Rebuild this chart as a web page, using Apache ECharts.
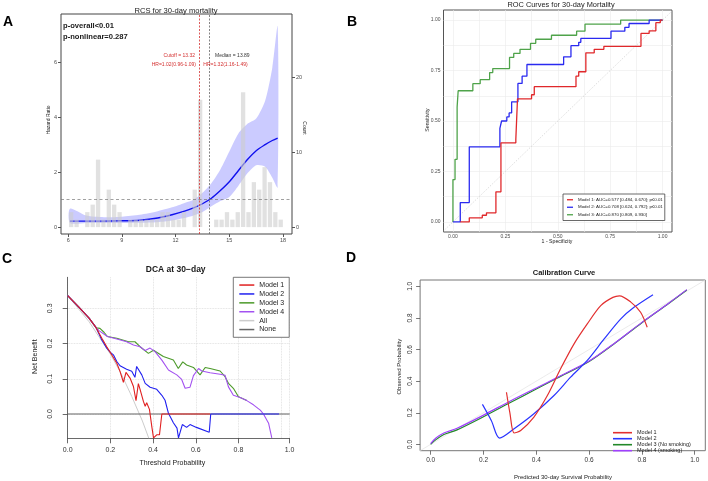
<!DOCTYPE html>
<html>
<head>
<meta charset="utf-8">
<script src="https://cdn.jsdelivr.net/npm/echarts@6.0.0/dist/echarts.min.js"></script>
<style>
html, body { margin: 0; padding: 0; background: #fff; }
#main { width: 708px; height: 481px; }
</style>
</head>
<body>
<div id="main"></div>
<script>
// ---- A: RCS for 30-day mortality ----
var rcsX     = [6.1, 7.0, 8.0, 9.0, 10.0, 11.0, 11.8, 12.5, 13.0, 13.5, 14.0, 14.5, 15.0, 15.5, 16.0, 16.5, 17.0, 17.4, 17.7];
var rcsHR    = [0.22, 0.22, 0.22, 0.23, 0.25, 0.33, 0.45, 0.58, 0.70, 0.85, 1.05, 1.33, 1.65, 2.05, 2.45, 2.78, 3.00, 3.15, 3.24];
var rcsUpper = [0.67, 0.42, 0.36, 0.38, 0.45, 0.58, 0.72, 0.88, 1.00, 1.25, 1.60, 2.10, 2.75, 3.40, 3.75, 3.95, 4.60, 5.80, 7.30];
var rcsLower = [0.15, 0.15, 0.15, 0.15, 0.16, 0.18, 0.24, 0.33, 0.42, 0.55, 0.76, 0.95, 1.10, 1.50, 1.95, 2.25, 2.20, 1.80, 1.45];
var histX = [6.17, 6.47, 6.77, 7.07, 7.37, 7.67, 7.97, 8.27, 8.57, 8.87,
             9.17, 9.47, 9.77, 10.07, 10.37, 10.67, 10.97, 11.27, 11.57, 11.87,
             12.17, 12.47, 12.77, 13.07, 13.37, 13.67, 13.97, 14.27, 14.57, 14.87,
             15.17, 15.47, 15.77, 16.07, 16.37, 16.67, 16.97, 17.27, 17.57, 17.87];
var histCount = [2, 1, 0, 2, 3, 9, 1, 5, 3, 2,
                 0, 1, 1, 1, 1, 1, 1, 2, 2, 1,
                 1, 2, 0, 5, 17, 0, 0, 1, 1, 2,
                 1, 2, 18, 2, 6, 5, 8, 6, 2, 1];
var hrRef = 1;
var cutoff = 13.32;
var median = 13.89;
var rcsXTicks = [6, 9, 12, 15, 18];
var hrTicks = [0, 2, 4, 6];
var countTicks = [0, 10, 20];

// ---- B: ROC curves ----
var roc1 = [[0.035,0],[0.078,0],[0.078,0.02],[0.14,0.02],[0.14,0.033],[0.16,0.033],[0.16,0.045],[0.205,0.045],[0.205,0.149],[0.229,0.149],[0.229,0.392],[0.3,0.392],[0.3,0.408],[0.308,0.408],[0.308,0.61],[0.375,0.61],[0.375,0.63],[0.388,0.63],[0.388,0.67],[0.587,0.67],[0.587,0.722],[0.6,0.722],[0.6,0.744],[0.634,0.744],[0.634,0.838],[0.674,0.838],[0.674,0.855],[0.72,0.855],[0.72,0.87],[0.897,0.87],[0.897,0.934],[0.936,0.934],[0.936,0.947],[0.968,0.947],[0.968,0.987],[0.989,0.987],[0.989,1],[1,1]];
var roc2 = [[0,0],[0.035,0],[0.035,0.096],[0.078,0.096],[0.078,0.372],[0.224,0.372],[0.224,0.463],[0.232,0.463],[0.232,0.5],[0.257,0.5],[0.257,0.52],[0.268,0.52],[0.268,0.54],[0.28,0.54],[0.28,0.595],[0.31,0.595],[0.31,0.686],[0.33,0.686],[0.33,0.722],[0.353,0.722],[0.353,0.78],[0.528,0.78],[0.528,0.818],[0.563,0.818],[0.563,0.873],[0.6,0.873],[0.6,0.89],[0.61,0.89],[0.61,0.909],[0.754,0.909],[0.754,0.945],[0.82,0.945],[0.82,0.964],[0.84,0.964],[0.84,0.983],[0.936,0.983],[0.936,1],[1,1]];
var roc3 = [[0,0],[0,0.21],[0.01,0.21],[0.01,0.31],[0.02,0.31],[0.02,0.57],[0.025,0.57],[0.025,0.65],[0.095,0.65],[0.095,0.685],[0.13,0.685],[0.13,0.705],[0.175,0.705],[0.175,0.74],[0.19,0.74],[0.19,0.76],[0.27,0.76],[0.27,0.815],[0.29,0.815],[0.29,0.835],[0.32,0.835],[0.32,0.855],[0.37,0.855],[0.37,0.885],[0.395,0.885],[0.395,0.905],[0.47,0.905],[0.47,0.925],[0.59,0.925],[0.59,0.945],[0.63,0.945],[0.63,0.98],[0.8,0.98],[0.8,1],[1,1]];
var rocDiag = [[-0.05,-0.05],[1.05,1.05]];
var rocNames = ['Model 1: AUC=0.577 [0.484, 0.670]; p\u22640.01',
                'Model 2: AUC=0.708 [0.624, 0.792]; p\u22640.01',
                'Model 3: AUC=0.870 [0.809, 0.930]'];
var rocTicks = [0, 0.25, 0.5, 0.75, 1];
var rocGrid = [0, 0.125, 0.25, 0.375, 0.5, 0.625, 0.75, 0.875, 1];

// ---- C: DCA at 30-day ----
var dca1 = [[0,0.336],[0.05,0.305],[0.1,0.272],[0.133,0.245],[0.16,0.215],[0.183,0.191],[0.206,0.168],[0.23,0.144],[0.245,0.121],[0.261,0.09],[0.273,0.118],[0.292,0.102],[0.308,0.078],[0.32,0.038],[0.331,0.086],[0.339,0.07],[0.355,0.035],[0.363,0.022],[0.37,0.032],[0.383,0.013],[0.394,-0.036],[0.402,-0.068],[0.417,-0.059],[0.43,-0.059],[0.441,0],[0.667,0]];
var dca2 = [[0,0.336],[0.05,0.305],[0.1,0.272],[0.133,0.245],[0.16,0.21],[0.183,0.187],[0.2,0.175],[0.214,0.168],[0.23,0.149],[0.245,0.137],[0.276,0.127],[0.3,0.121],[0.315,0.104],[0.323,0.135],[0.347,0.111],[0.363,0.087],[0.386,0.076],[0.417,0.07],[0.441,0.053],[0.456,0.039],[0.472,0.002],[0.495,-0.025],[0.512,-0.04],[0.519,-0.068],[0.528,-0.068],[0.537,-0.03],[0.557,-0.038],[0.573,-0.03],[0.603,-0.038],[0.663,-0.052],[0.67,0],[0.99,0]];
var dca3 = [[0,0.336],[0.05,0.305],[0.1,0.272],[0.133,0.245],[0.151,0.243],[0.17,0.232],[0.186,0.22],[0.23,0.215],[0.285,0.205],[0.315,0.205],[0.339,0.191],[0.378,0.172],[0.402,0.181],[0.448,0.163],[0.495,0.153],[0.518,0.129],[0.539,0.148],[0.557,0.139],[0.589,0.132],[0.62,0.111],[0.644,0.132],[0.667,0.129],[0.714,0.122],[0.737,0.106],[0.753,0.087],[0.776,0.073],[0.8,0.049],[0.839,0.038]];
var dca4 = [[0,0.336],[0.05,0.305],[0.1,0.272],[0.133,0.245],[0.148,0.236],[0.186,0.22],[0.23,0.213],[0.276,0.205],[0.308,0.196],[0.339,0.191],[0.363,0.18],[0.386,0.187],[0.409,0.177],[0.441,0.153],[0.472,0.125],[0.511,0.111],[0.534,0.098],[0.55,0.073],[0.573,0.076],[0.589,0.109],[0.613,0.129],[0.628,0.122],[0.667,0.117],[0.714,0.113],[0.737,0.11],[0.753,0.077],[0.776,0.053],[0.808,0.047],[0.839,0.038],[0.87,0.026],[0.902,0.011],[0.917,0],[0.941,-0.026],[0.956,-0.068]];
var dcaAll = [[0,0.336],[0.1,0.262],[0.2,0.17],[0.25,0.115],[0.3,0.05],[0.35,-0.02],[0.38,-0.069]];
var dcaNone = [[0,0],[1.04,0]];
var dcaYTicks = [0, 0.1, 0.2, 0.3];

// ---- D: Calibration curve ----
var cal1 = [[0.287,0.33],[0.3,0.2],[0.316,0.072],[0.341,0.088],[0.391,0.173],[0.442,0.309],[0.492,0.478],[0.543,0.636],[0.593,0.762],[0.644,0.878],[0.69,0.93],[0.715,0.94],[0.758,0.9],[0.795,0.836],[0.82,0.741]];
var cal2 = [[0.196,0.253],[0.23,0.15],[0.261,0.04],[0.316,0.099],[0.391,0.194],[0.467,0.309],[0.53,0.425],[0.593,0.531],[0.657,0.667],[0.72,0.794],[0.77,0.867],[0.842,0.947]];
var cal3 = [[0,0],[0.02,0.03],[0.05,0.062],[0.1,0.092],[0.2,0.175],[0.3,0.263],[0.4,0.35],[0.48,0.42],[0.6,0.525],[0.7,0.643],[0.8,0.77],[0.9,0.89],[0.97,0.977]];
var cal4 = [[0,0.005],[0.02,0.04],[0.05,0.072],[0.1,0.102],[0.2,0.185],[0.3,0.273],[0.4,0.357],[0.48,0.424],[0.6,0.527],[0.7,0.645],[0.8,0.772],[0.9,0.892],[0.97,0.979]];
var calDiag = [[-0.04,-0.04],[1.04,1.04]];
var calNames = ['Model 1', 'Model 2', 'Model 3 (No smoking)', 'Model 4 (smoking)'];
var calTicks = [0, 0.2, 0.4, 0.6, 0.8, 1];

var FF = '"Liberation Sans", Arial, sans-serif';

function pairs(xs, ys) {
    var out = [];
    for (var i = 0; i < xs.length; i++) out.push([xs[i], ys[i]]);
    return out;
}

function txt(x, y, s, size, opt) {
    opt = opt || {};
    return {
        type: 'text', x: x, y: y, rotation: opt.rot || 0, silent: true, z: 100,
        style: {
            text: s, fill: opt.color || '#1a1a1a', align: opt.align || 'center', verticalAlign: 'middle',
            font: (opt.bold ? 'bold ' : '') + size + 'px ' + FF
        }
    };
}
function lab(size, color, extra) {
    var o = { fontSize: size, color: color, fontFamily: FF };
    for (var k in extra) o[k] = extra[k];
    return o;
}
function fmt(d) { return function (v) { return Number(v).toFixed(d); }; }
function line(name, xi, yi, data, color, width, extra) {
    var s = {
        name: name, type: 'line', xAxisIndex: xi, yAxisIndex: yi, data: data,
        symbol: 'none', showSymbol: false, color: color,
        lineStyle: { color: color, width: width }, z: 3
    };
    for (var k in extra) s[k] = extra[k];
    return s;
}

// confidence band of the spline, drawn as one polygon through the axes
function renderBand(params, api) {
    if (params.dataIndex !== 0) return null;
    var pts = [];
    for (var i = 0; i < rcsX.length; i++) pts.push(api.coord([rcsX[i], rcsUpper[i]]));
    for (var j = rcsX.length - 1; j >= 0; j--) pts.push(api.coord([rcsX[j], rcsLower[j]]));
    return {
        type: 'polygon',
        shape: { points: pts, smooth: 0.25 },
        style: { fill: 'rgba(70,70,255,0.28)' }
    };
}

var axisOff = { show: false, onZero: false };

var chart = echarts.init(document.getElementById('main'));

var option = {
    animation: false,
    backgroundColor: '#fff',
    grid: [
        { left: 61, top: 14, width: 231, height: 220, show: true, borderColor: '#444', borderWidth: 1, backgroundColor: 'transparent' },
        { left: 443.5, top: 10, width: 228.5, height: 222, show: true, borderColor: '#555', borderWidth: 1, backgroundColor: 'transparent' },
        { left: 67.7, top: 277.3, width: 221.8, height: 161, show: false },
        { left: 420.1, top: 280, width: 285.2, height: 170.7, show: true, borderColor: '#777', borderWidth: 1, backgroundColor: 'transparent' }
    ],
    xAxis: [
        { type: 'value', gridIndex: 0, min: 5.6, max: 18.5,
          axisLine: axisOff, splitLine: { show: false },
          axisTick: { customValues: rcsXTicks, length: 3, lineStyle: { color: '#555' } },
          axisLabel: { customValues: rcsXTicks, margin: 3, fontSize: 5.5, color: '#4d4d4d', fontFamily: FF } },
        { type: 'value', gridIndex: 1, min: -0.045, max: 1.045,
          axisLine: axisOff,
          axisTick: { show: false, customValues: rocGrid },
          splitLine: { show: true, lineStyle: { color: '#ebebeb', width: 0.6 } },
          axisLabel: { customValues: rocTicks, margin: 2, fontSize: 5, color: '#4d4d4d', fontFamily: FF, formatter: fmt(2) } },
        { type: 'value', gridIndex: 2, min: 0, max: 1.039, interval: 0.2,
          axisLine: { show: true, onZero: false, lineStyle: { color: '#444', width: 0.8 } },
          axisTick: { length: 5, lineStyle: { color: '#444', width: 0.8 } },
          splitLine: { show: true, lineStyle: { color: '#d9d9d9', type: 'dotted', width: 0.8 } },
          axisLabel: { margin: 8, fontSize: 7, color: '#333', fontFamily: FF, formatter: fmt(1), showMaxLabel: true } },
        { type: 'value', gridIndex: 3, min: -0.04, max: 1.04,
          axisLine: axisOff, splitLine: { show: false },
          axisTick: { customValues: calTicks, length: 4, lineStyle: { color: '#555', width: 0.8 } },
          axisLabel: { customValues: calTicks, margin: 6, fontSize: 6.5, color: '#333', fontFamily: FF, formatter: fmt(1) } }
    ],
    yAxis: [
        { type: 'value', gridIndex: 0, min: -0.25, max: 7.75,
          axisLine: axisOff, splitLine: { show: false },
          axisTick: { customValues: hrTicks, length: 3, lineStyle: { color: '#555' } },
          axisLabel: { customValues: hrTicks, margin: 4, fontSize: 5.5, color: '#4d4d4d', fontFamily: FF } },
        { type: 'value', gridIndex: 0, position: 'right', min: -0.917, max: 28.42,
          axisLine: axisOff, splitLine: { show: false },
          axisTick: { customValues: countTicks, length: 3, lineStyle: { color: '#555' } },
          axisLabel: { customValues: countTicks, margin: 4, fontSize: 5.5, color: '#4d4d4d', fontFamily: FF } },
        { type: 'value', gridIndex: 1, min: -0.05, max: 1.05,
          axisLine: axisOff,
          axisTick: { show: false, customValues: rocGrid },
          splitLine: { show: true, lineStyle: { color: '#ebebeb', width: 0.6 } },
          axisLabel: { customValues: rocTicks, margin: 3, fontSize: 5, color: '#4d4d4d', fontFamily: FF, formatter: fmt(2) } },
        { type: 'value', gridIndex: 2, min: -0.069, max: 0.388,
          axisLine: { show: true, onZero: false, lineStyle: { color: '#444', width: 0.8 } },
          axisTick: { customValues: dcaYTicks, length: 5, lineStyle: { color: '#444', width: 0.8 } },
          splitLine: { show: true, lineStyle: { color: '#d9d9d9', type: 'dotted', width: 0.8 } },
          axisLabel: { customValues: dcaYTicks, margin: 14, rotate: 90, fontSize: 7, color: '#333', fontFamily: FF, formatter: fmt(1) } },
        { type: 'value', gridIndex: 3, min: -0.04, max: 1.04,
          axisLine: axisOff, splitLine: { show: false },
          axisTick: { customValues: calTicks, length: 4, lineStyle: { color: '#555', width: 0.8 } },
          axisLabel: { customValues: calTicks, margin: 6, rotate: 90, fontSize: 6.5, color: '#333', fontFamily: FF, formatter: fmt(1) } }
    ],
    legend: [
        { data: rocNames, orient: 'vertical', left: 563, top: 194, icon: 'rect',
          itemWidth: 6, itemHeight: 1.3, itemGap: 2, padding: [3, 2, 3, 4],
          borderColor: '#444', borderWidth: 0.8, backgroundColor: '#fff', selectedMode: false,
          textStyle: lab(4.4, '#222', { lineHeight: 5.5 }) },
        { data: ['C:Model 1', 'C:Model 2', 'C:Model 3', 'C:Model 4', 'C:All', 'C:None'],
          formatter: function (n) { return n.slice(2); },
          orient: 'vertical', left: 233.3, top: 277.3, icon: 'rect',
          itemWidth: 15, itemHeight: 1.5, itemGap: 1.4, padding: [4, 5, 4, 6],
          borderColor: '#555', borderWidth: 0.8, backgroundColor: '#fff', selectedMode: false,
          textStyle: lab(7, '#222', { lineHeight: 7.5 }) },
        { data: calNames.map(function (n) { return 'D:' + n; }),
          formatter: function (n) { return n.slice(2); },
          orient: 'vertical', left: 613, top: 429.7, icon: 'rect',
          itemWidth: 19, itemHeight: 1.6, itemGap: 0, padding: 0, selectedMode: false,
          textStyle: lab(5.5, '#222', { lineHeight: 4 }) }
    ],
    series: [
        // A
        { name: 'band', type: 'custom', xAxisIndex: 0, yAxisIndex: 0, data: pairs(rcsX, rcsHR),
          renderItem: renderBand, z: 1, silent: true },
        line('HR', 0, 0, pairs(rcsX, rcsHR), '#1010ee', 1.4, { smooth: 0.3, z: 2,
            markLine: { silent: true, symbol: 'none', label: { show: false },
                data: [
                    { yAxis: hrRef, lineStyle: { color: '#777', type: [3, 2.5], width: 0.7 } },
                    { xAxis: cutoff, lineStyle: { color: '#d43030', type: [2, 1.5], width: 0.8 } },
                    { xAxis: median, lineStyle: { color: '#666', type: [2, 1.5], width: 0.8 } }
                ] } }),
        { name: 'count', type: 'bar', xAxisIndex: 0, yAxisIndex: 1, data: pairs(histX, histCount),
          barWidth: 4.3, itemStyle: { color: 'rgba(205,205,205,0.6)' }, z: 4, silent: true },
        // B
        line('diagB', 1, 2, rocDiag, '#cfcfcf', 0.7, { lineStyle: { color: '#cfcfcf', width: 0.7, type: [1.5, 1.5] }, z: 2 }),
        line(rocNames[2], 1, 2, roc3, '#4fa34a', 1.3),
        line(rocNames[1], 1, 2, roc2, '#2a2af0', 1.3),
        line(rocNames[0], 1, 2, roc1, '#e0282b', 1.3),
        // C
        line('C:All', 2, 3, dcaAll, '#cccccc', 1),
        line('C:None', 2, 3, dcaNone, '#666666', 1),
        line('C:Model 3', 2, 3, dca3, '#4c9a2a', 1.1),
        line('C:Model 4', 2, 3, dca4, '#a352f0', 1.1),
        line('C:Model 2', 2, 3, dca2, '#2020f0', 1.1),
        line('C:Model 1', 2, 3, dca1, '#e02020', 1.1),
        // D
        line('diagD', 3, 4, calDiag, '#e3e3e3', 0.7),
        line('D:' + calNames[2], 3, 4, cal3, '#22882a', 1.2, { smooth: 0.3 }),
        line('D:' + calNames[3], 3, 4, cal4, '#a040ff', 1.2, { smooth: 0.3 }),
        line('D:' + calNames[1], 3, 4, cal2, '#2a35ff', 1.2, { smooth: 0.3 }),
        line('D:' + calNames[0], 3, 4, cal1, '#e23030', 1.2, { smooth: 0.3 })
    ],
    graphic: [
        txt(8, 22, 'A', 14, { bold: true, color: '#000' }),
        txt(352, 22, 'B', 14, { bold: true, color: '#000' }),
        txt(7, 259.5, 'C', 14, { bold: true, color: '#000' }),
        txt(351, 258, 'D', 14, { bold: true, color: '#000' }),
        // A texts
        txt(176, 10.7, 'RCS for 30-day mortality', 7.6),
        txt(63, 26, 'p-overall<0.01', 7.6, { bold: true, align: 'left' }),
        txt(63, 36.7, 'p-nonlinear=0.287', 7.6, { bold: true, align: 'left' }),
        txt(195, 55.7, 'Cutoff = 13.32', 5, { align: 'right', color: '#d43030' }),
        txt(215, 55.7, 'Median = 13.89', 5, { align: 'left', color: '#333' }),
        txt(196, 65, 'HR=1.02(0.96-1.09)', 5, { align: 'right', color: '#d43030' }),
        txt(203.3, 65, 'HR=1.32(1.16-1.49)', 5, { align: 'left', color: '#d43030' }),
        txt(48.3, 120, 'Hazard Ratio', 5, { rot: Math.PI / 2 }),
        txt(304, 128, 'Count', 5, { rot: -Math.PI / 2 }),
        // B texts
        txt(561, 5.3, 'ROC Curves for 30-day Mortality', 7.4),
        txt(428, 120, 'Sensitivity', 5.2, { rot: Math.PI / 2 }),
        txt(557, 242, '1 - Specificity', 5.2),
        // C texts
        txt(175.7, 269.3, 'DCA at 30\u2212day', 8.5, { bold: true }),
        txt(35, 356.7, 'Net Benefit', 7, { rot: Math.PI / 2 }),
        txt(172.3, 462.7, 'Threshold Probability', 7),
        // D texts
        txt(564, 273.3, 'Calibration Curve', 7.5, { bold: true }),
        txt(399, 366.7, 'Observed Probability', 6, { rot: Math.PI / 2 }),
        txt(563, 477.3, 'Predicted 30-day Survival Probability', 6)
    ]
};

chart.setOption(option);
</script>
</body>
</html>
